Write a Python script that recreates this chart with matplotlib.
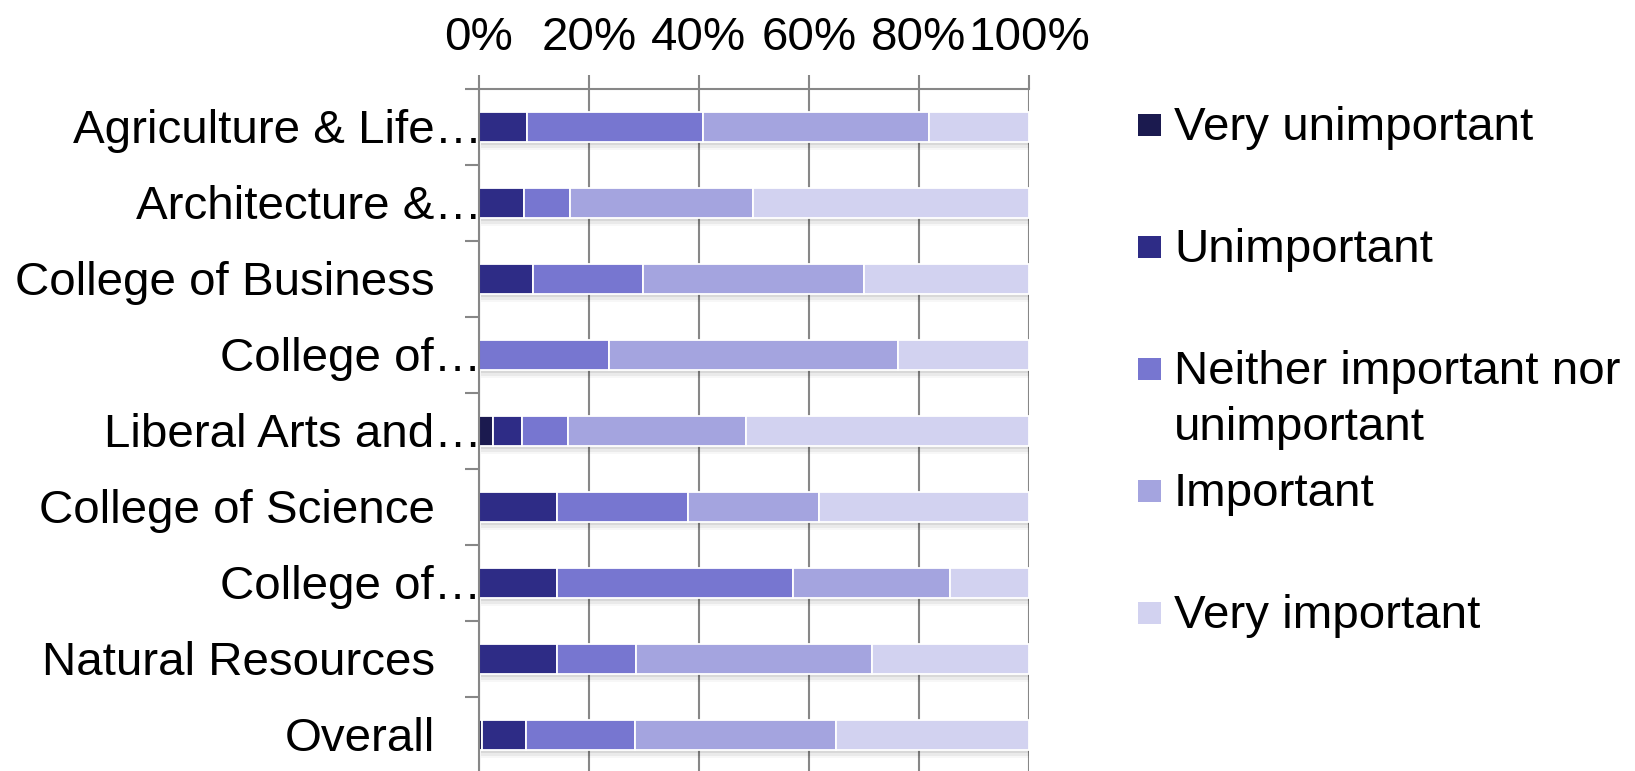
import numpy as np
import matplotlib
matplotlib.use("Agg")
import matplotlib.pyplot as plt
from matplotlib.patches import Rectangle
from matplotlib.transforms import blended_transform_factory

plt.rcParams['font.family'] = ['Liberation Sans', 'DejaVu Sans']

categories = ["Agriculture & Life…", "Architecture &…", "College of Business",
              "College of…", "Liberal Arts and…", "College of Science",
              "College of…", "Natural Resources", "Overall"]
series_names = ["Very unimportant", "Unimportant",
                "Neither important nor\nunimportant", "Important", "Very important"]
very_unimportant = [0.0, 0.0, 0.0, 0.0, 2.5, 0.0, 0.0, 0.0, 0.5]
unimportant      = [8.8, 8.1, 9.8, 0.0, 5.4, 14.1, 14.1, 14.1, 8.1]
neither          = [32.0, 8.4, 20.1, 23.7, 8.2, 23.9, 43.0, 14.4, 19.7]
important        = [41.0, 33.4, 40.1, 52.5, 32.5, 23.9, 28.6, 43.0, 36.6]
very_important   = [18.2, 50.1, 30.0, 23.8, 51.4, 38.1, 14.3, 28.5, 35.1]
xticks = [0, 20, 40, 60, 80, 100]
xtick_labels = ["0%", "20%", "40%", "60%", "80%", "100%"]

colors = ["#1b1a4f", "#2e2c86", "#7776d0", "#a4a4df", "#d2d2f0"]
FS = 34.2
W, H = 1635, 771

fig = plt.figure(figsize=(W / 100, H / 100), dpi=100)
ax = fig.add_axes([479 / W, 1 - 773 / H, 550 / W, 684 / H])

data = np.array([very_unimportant, unimportant, neither, important, very_important])
y = np.arange(len(categories))
bar_h = 0.40
totals = data.sum(axis=0)

# soft shadow under bars
for k, a in zip([0.035, 0.07, 0.105], [0.07, 0.05, 0.03]):
    ax.barh(y + k, totals, left=0.4, height=bar_h, color="black", alpha=a,
            linewidth=0, zorder=1.5)

left = np.zeros(len(categories))
for vals, col in zip(data, colors):
    ax.barh(y, vals, left=left, height=bar_h, color=col, edgecolor="white",
            linewidth=1.3, zorder=2)
    left += vals

ax.set_xlim(0, 100)
ax.set_ylim(len(categories) - 0.5, -0.5)

ax.xaxis.tick_top()
ax.set_xticks(xticks)
ax.set_xticklabels(xtick_labels, fontsize=FS)
ax.tick_params(axis="x", direction="out", length=10, width=1.5, color="#878787",
               pad=11)
ax.grid(axis="x", color="#878787", linewidth=1.5, zorder=0)
ax.set_axisbelow(True)

ax.set_yticks([])
ax.set_yticks(np.arange(len(categories) + 1) - 0.5, minor=True)
ax.tick_params(axis="y", which="minor", direction="out", length=10, width=1.5,
               color="#878787", labelleft=False)

for s in ["right", "bottom"]:
    ax.spines[s].set_visible(False)
for s in ["left", "top"]:
    ax.spines[s].set_color("#878787")
    ax.spines[s].set_linewidth(1.5)
    ax.spines[s].set_zorder(3)

trans = blended_transform_factory(ax.transAxes, ax.transData)
for i, lab in enumerate(categories):
    xpos = 0.005 if lab.endswith("…") else -0.08
    ax.text(xpos, i + 0.21, lab, transform=trans, ha="right", va="baseline",
            fontsize=FS, color="black", clip_on=False)

# legend
leg_centers = [124.5, 246.7, 369, 491, 613]
line_step = 56
for name, col, cy in zip(series_names, colors, leg_centers):
    fig.patches.append(Rectangle((1138 / W, 1 - (cy + 11) / H), 23 / W, 22 / H,
                                 transform=fig.transFigure, facecolor=col,
                                 edgecolor="none"))
    nlines = name.count("\n")
    fig.text(1174 / W, 1 - (cy + 15.5 + nlines * line_step) / H, name, fontsize=FS,
             ha="left", va="baseline", linespacing=1.37)

fig.savefig("out.png", dpi=100)
